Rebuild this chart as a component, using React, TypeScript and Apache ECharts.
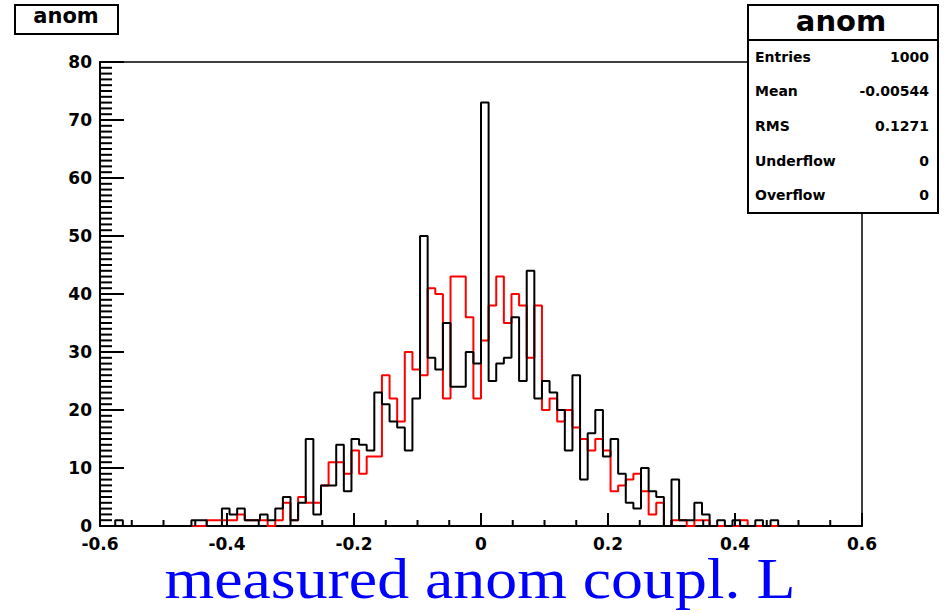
import React, { useEffect, useRef } from "react";
import * as echarts from "echarts";

// Histogram binning: 100 equal bins on [-0.6, 0.6]
const X_MIN = -0.6;
const X_MAX = 0.6;

// Counts per bin, "anom" histogram (black)
const anomCounts = [
  0, 0, 1, 0, 0, 0, 0, 0, 0, 0,
  0, 0, 1, 1, 0, 0, 3, 2, 3, 1,
  1, 2, 1, 3, 5, 1, 4, 15, 2, 7,
  7, 14, 6, 15, 14, 13, 23, 21, 18, 17,
  13, 22, 50, 29, 27, 35, 24, 24, 30, 28,
  73, 25, 28, 29, 36, 25, 44, 22, 25, 23,
  20, 13, 26, 8, 16, 20, 12, 15, 9, 4,
  3, 10, 6, 5, 0, 8, 1, 1, 4, 2,
  0, 1, 0, 1, 0, 0, 1, 0, 1, 0,
  0, 0, 0, 0, 0, 0, 0, 0, 0, 0,
];

// Counts per bin, comparison histogram (red)
const refCounts = [
  0, 0, 0, 0, 0, 0, 0, 0, 0, 0,
  0, 0, 0, 0, 1, 1, 1, 1, 2, 1,
  1, 1, 0, 1, 4, 1, 5, 4, 4, 7,
  11, 11, 9, 13, 9, 12, 12, 26, 22, 18,
  30, 27, 26, 41, 40, 22, 43, 43, 36, 22,
  32, 38, 43, 35, 40, 38, 29, 38, 20, 22,
  18, 20, 17, 15, 13, 15, 13, 6, 7, 8,
  9, 6, 2, 4, 0, 1, 1, 0, 1, 1,
  0, 0, 0, 0, 1, 0, 0, 0, 0, 0,
  0, 0, 0, 0, 0, 0, 0, 0, 0, 0,
];

const histName = "anom";
const statLabels = ["Entries", "Mean", "RMS", "Underflow", "Overflow"];
const statValues = ["1000", "-0.00544", "0.1271", "0", "0"];
const xAxisTitle = "measured anom coupl. L";

// Tick marks: every 1 count on y (long every 10), every 0.05 on x (long every 0.2)
const Y_TICK_STEP = 1;
const Y_MAJOR_EVERY = 10;
const X_TICK_STEP = 0.05;
const X_MAJOR_EVERY = 4;
const yTickValues = Array.from({ length: 81 }, (_, i) => i * Y_TICK_STEP);
const xTickValues = Array.from({ length: 25 }, (_, i) => X_MIN + i * X_TICK_STEP);

// Turn bin counts into [leftEdge, count] points for a step line
function histPoints(counts: number[]): number[][] {
  const w = (X_MAX - X_MIN) / counts.length;
  const pts = counts.map((c, i) => [X_MIN + i * w, c]);
  pts.push([X_MAX, 0]);
  return pts;
}

const SANS = '"DejaVu Sans", "Liberation Sans", sans-serif';

export default function App() {
  const ref = useRef<HTMLDivElement>(null);

  useEffect(() => {
    if (!ref.current) return;
    const chart = echarts.init(ref.current, undefined, { renderer: "svg" });

    const rowY = [57, 91, 126, 161, 195];
    const statGraphics: any[] = [];
    statLabels.forEach((lab, i) => {
      statGraphics.push({
        type: "text",
        x: 755,
        y: rowY[i],
        z: 101,
        style: {
          text: lab,
          font: `bold 14px ${SANS}`,
          fill: "#000",
          textAlign: "left",
          textVerticalAlign: "middle",
        },
      });
      statGraphics.push({
        type: "text",
        x: 929,
        y: rowY[i],
        z: 101,
        style: {
          text: statValues[i],
          font: `bold 14px ${SANS}`,
          fill: "#000",
          textAlign: "right",
          textVerticalAlign: "middle",
        },
      });
    });

    const labelStyle = {
      color: "#000",
      fontFamily: SANS,
      fontWeight: "bold" as const,
      fontSize: 17,
      lineHeight: 14,
    };

    chart.setOption({
      animation: false,
      backgroundColor: "#fff",
      grid: {
        left: 100,
        top: 62,
        width: 762,
        height: 464,
        show: true,
        borderColor: "#000",
        borderWidth: 1.5,
        backgroundColor: "transparent",
      },
      xAxis: {
        type: "value",
        min: -0.6,
        max: 0.6,
        interval: 0.2,
        axisLine: { show: true, onZero: false, lineStyle: { color: "#000", width: 2 } },
        axisTick: { show: false },
        splitLine: { show: false },
        axisLabel: {
          ...labelStyle,
          margin: 11,
          formatter: (v: number) => (Math.abs(v) < 1e-9 ? "0" : v.toFixed(1)),
        },
      },
      yAxis: {
        type: "value",
        min: 0,
        max: 80,
        interval: 10,
        axisLine: { show: true, onZero: false, lineStyle: { color: "#000", width: 2 } },
        axisTick: { show: false },
        splitLine: { show: false },
        axisLabel: { ...labelStyle, margin: 8 },
      },
      series: [
        {
          type: "line",
          step: "end",
          symbol: "none",
          data: histPoints(refCounts),
          lineStyle: { color: "#ff0000", width: 2 },
          z: 2,
        },
        {
          type: "line",
          step: "end",
          symbol: "none",
          data: histPoints(anomCounts),
          lineStyle: { color: "#000000", width: 2 },
          z: 3,
        },
        // y-axis tick marks, pointing into the frame
        {
          type: "custom",
          silent: true,
          clip: false,
          z: 4,
          data: yTickValues.map((v) => [X_MIN, v]),
          renderItem: (params: any, api: any) => {
            const v = api.value(1);
            const p = api.coord([X_MIN, v]);
            const major = Math.round(v / Y_TICK_STEP) % Y_MAJOR_EVERY === 0;
            const len = major ? 24 : 12;
            return {
              type: "line",
              shape: { x1: p[0], y1: p[1], x2: p[0] + len, y2: p[1] },
              style: { stroke: "#000", lineWidth: 2 },
            };
          },
        },
        // x-axis tick marks, pointing into the frame
        {
          type: "custom",
          silent: true,
          clip: false,
          z: 4,
          data: xTickValues.map((v) => [v, 0]),
          renderItem: (params: any, api: any) => {
            const v = api.value(0);
            const p = api.coord([v, 0]);
            const major = params.dataIndex % X_MAJOR_EVERY === 0;
            const len = major ? 13 : 6;
            return {
              type: "line",
              shape: { x1: p[0], y1: p[1], x2: p[0], y2: p[1] - len },
              style: { stroke: "#000", lineWidth: 2 },
            };
          },
        },
      ],
      graphic: [
        // title box, top left
        {
          type: "rect",
          z: 100,
          shape: { x: 15, y: 5, width: 103, height: 29 },
          style: { fill: "#fff", stroke: "#000", lineWidth: 2 },
        },
        {
          type: "text",
          x: 66,
          y: 16,
          z: 101,
          style: {
            text: histName,
            font: `bold 21px ${SANS}`,
            fill: "#000",
            textAlign: "center",
            textVerticalAlign: "middle",
          },
        },
        // statistics box
        {
          type: "rect",
          z: 100,
          shape: { x: 748, y: 5, width: 190, height: 208 },
          style: { fill: "#fff", stroke: "#000", lineWidth: 2 },
        },
        {
          type: "line",
          z: 101,
          shape: { x1: 748, y1: 40, x2: 938, y2: 40 },
          style: { stroke: "#000", lineWidth: 2 },
        },
        {
          type: "text",
          x: 841,
          y: 21,
          z: 101,
          style: {
            text: histName,
            font: `bold 29px ${SANS}`,
            fill: "#000",
            textAlign: "center",
            textVerticalAlign: "middle",
          },
        },
        ...statGraphics,
        // x axis title
        {
          type: "text",
          x: 480,
          y: 579,
          scaleX: 1.14,
          z: 101,
          style: {
            text: xAxisTitle,
            font: '56px "Liberation Serif", "Times New Roman", serif',
            fill: "#0000ff",
            textAlign: "center",
            textVerticalAlign: "middle",
          },
        },
      ],
    });

    return () => chart.dispose();
  }, []);

  return (
    <div
      ref={ref}
      style={{ position: "absolute", left: 0, top: 0, width: 945, height: 612 }}
    />
  );
}
